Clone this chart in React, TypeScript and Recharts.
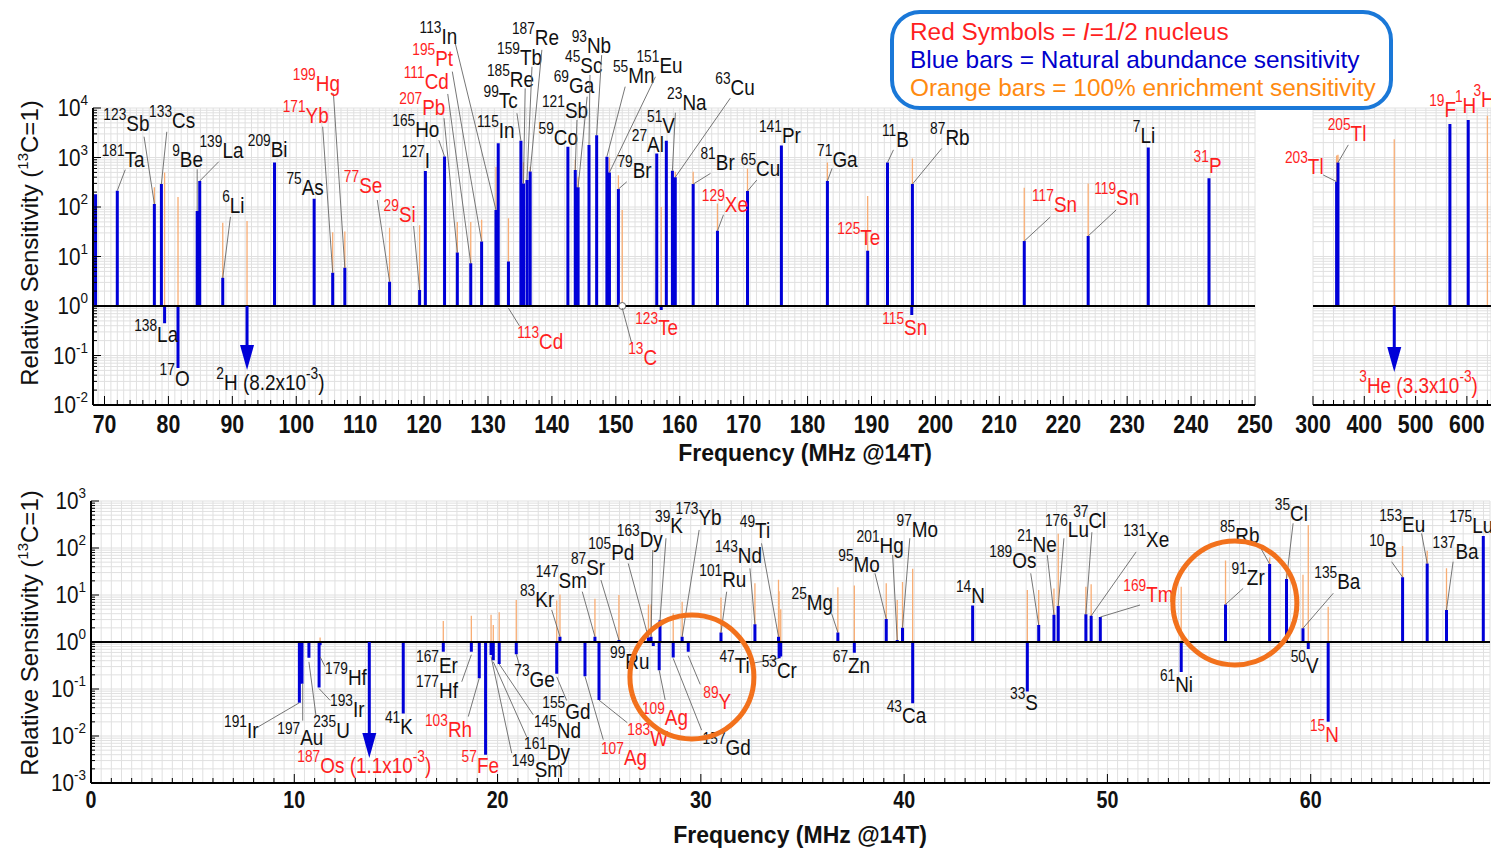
import React from "react";
import {
  ComposedChart,
  Line,
  Scatter,
  XAxis,
  YAxis,
  CartesianGrid,
  ReferenceLine,
  ReferenceDot,
} from "recharts";

const FONT = "'Liberation Sans', Arial, Helvetica, sans-serif";
const BLUE = "#0000d8";
const ORANGE = "#f8ad74";
const RED = "#ff1f1f";
const INK = "#111111";
const RING = "#f2711c";

// ---- top panel: 14.1 T frequency (MHz) and sensitivity relative to 13C ----
const TOP_ISOTOPES = [
  "175Lu", "181Ta", "123Sb", "133Cs", "138La", "17O", "9Be", "139La", "6Li", "2H",
  "209Bi", "75As", "171Yb", "199Hg", "77Se", "29Si", "127I", "165Ho", "207Pb", "111Cd",
  "195Pt", "113In", "115In", "113Cd", "99Tc", "185Re", "159Tb", "187Re", "59Co", "121Sb",
  "69Ga", "45Sc", "93Nb", "55Mn", "151Eu", "79Br", "13C", "27Al", "123Te", "51V",
  "23Na", "63Cu", "81Br", "129Xe", "65Cu", "141Pr", "71Ga", "125Te", "11B", "87Rb",
  "115Sn", "117Sn", "119Sn", "7Li", "31P", "203Tl", "205Tl", "3He", "19F", "1H", "3H",
];
const TOP_FREQ = [
  68.6, 72.0, 77.8, 78.9, 79.4, 81.5, 84.5, 84.9, 88.5, 92.3,
  96.6, 102.8, 105.7, 107.6, 114.6, 119.3, 120.2, 123.2, 125.2, 127.3,
  129.0, 131.25, 131.6, 133.2, 135.15, 135.55, 136.1, 136.6, 142.5, 143.65,
  144.1, 145.8, 147.0, 148.6, 149.0, 150.4, 151.0, 156.4, 157.1, 157.9,
  158.85, 159.3, 162.1, 165.9, 170.6, 175.9, 183.1, 189.4, 192.5, 196.4,
  196.3, 213.9, 223.9, 233.3, 242.8, 346, 348.7, 458.4, 566.9, 602.6, 640,
];
const TOP_NATURAL = [
  182, 214, 115, 290, 0.45, 0.056, 83, 335, 3.7, 8.2e-3,
  790, 147, 4.7, 5.9, 3.1, 2.1, 535, 1050, 12, 7.3,
  20, 87, 1940, 7.9, 2190, 300, 350, 520, 1650, 560,
  250, 1790, 2830, 1040, 500, 230, 1, 1210, 0.83, 2190,
  540, 400, 290, 33, 210, 1740, 335, 13, 790, 290,
  0.66, 20.5, 26, 1590, 380, 325, 790, 3.3e-3, 4760, 5700, null,
];
const TOP_ENRICHED = [
  null, null, 250, null, 500, 160, null, null, 48, 52,
  null, null, 31, 32, 38, 43, null, null, 50, 50,
  55, 650, null, 59, null, 800, null, 650, null, 890,
  410, null, null, null, 1000, 440, 87, null, 100, null,
  null, 515, 515, 118, 600, null, 790, 166, null, 950,
  190, 245, 300, null, null, 1100, 1130, 2330, null, null, 7000,
];

// ---- bottom panel ----
const BOTTOM_ISOTOPES = [
  "191Ir", "197Au", "235U", "193Ir", "179Hf", "187Os", "41K", "167Er", "177Hf", "103Rh",
  "57Fe", "149Sm", "161Dy", "145Nd", "73Ge", "155Gd", "83Kr", "107Ag", "147Sm", "183W",
  "87Sr", "105Pd", "163Dy", "99Ru", "109Ag", "39K", "157Gd", "173Yb", "89Y", "101Ru",
  "143Nd", "49Ti", "47Ti", "53Cr", "25Mg", "67Zn", "95Mo", "201Hg", "97Mo", "43Ca",
  "14N", "33S", "189Os", "21Ne", "176Lu", "37Cl", "131Xe", "169Tm", "61Ni", "91Zr",
  "85Rb", "35Cl", "135Ba", "50V", "15N", "10B", "153Eu", "137Ba", "175Lu",
];
const BOTTOM_FREQ = [
  10.25, 10.38, 10.72, 11.22, 11.27, 13.69, 15.36, 17.33, 18.71, 19.1,
  19.41, 19.68, 19.79, 20.08, 20.92, 22.91, 23.07, 24.3, 24.79, 24.99,
  25.97, 27.42, 27.55, 27.66, 27.95, 27.99, 28.64, 29.08, 29.38, 30.99,
  32.66, 33.82, 33.85, 33.93, 36.74, 37.55, 39.12, 39.66, 39.92, 40.42,
  43.37, 46.06, 46.62, 47.37, 47.58, 48.94, 49.2, 49.65, 53.63, 55.81,
  57.98, 58.81, 59.62, 59.88, 60.86, 64.52, 65.73, 66.68, 68.49,
];
const BOTTOM_NATURAL = [
  0.051, 0.13, 0.46, 0.107, 0.85, 1.1e-3, 0.03, 0.62, 0.62, 0.17,
  0.004, 0.53, 0.41, 0.34, 0.55, 0.21, 1.3, 0.186, 1.3, 0.058,
  1.1, 1.25, 1.3, 0.82, 0.25, 2.9, 0.47, 1.3, 0.62, 1.6,
  2.4, 1.3, 0.45, 0.49, 1.6, 0.59, 3.1, 1.1, 2.0, 0.05,
  6.0, 0.088, 2.3, 3.8, 5.8, 3.9, 3.6, 3.4, 0.23, 6.3,
  45.6, 22, 1.96, 0.71, 0.02, 24, 47, 4.8, 180,
];
const BOTTOM_ENRICHED = [
  null, null, null, null, 1.25, null, null, 2.8, 3.6, null,
  null, 3.8, 2.3, 4.3, 7.8, 7.6, 10.3, null, 8.3, null,
  10, 6.3, 6.3, null, null, null, 4.1, 7.2, null, 8.8,
  17.8, 21, 12, 5, 14.6, 16, 17.8, 7.8, 19, 36,
  null, 12.7, 12.7, 13.8, 200, 15, 17, null, 15, 54,
  63, 29, 27, 310, 5.6, 110, 87, 37, null,
];

// spin-1/2 nuclei get red labels; these are off scale and drawn as arrows
const HALF_SPIN = new Set([
  "171Yb", "199Hg", "77Se", "29Si", "207Pb", "111Cd", "195Pt", "113Cd", "13C", "123Te",
  "129Xe", "125Te", "115Sn", "117Sn", "119Sn", "31P", "203Tl", "205Tl", "3He", "19F",
  "1H", "3H", "187Os", "103Rh", "57Fe", "107Ag", "183W", "109Ag", "89Y", "169Tm", "15N",
]);
const ARROWS = new Set(["2H", "3He", "187Os"]);

// axis labels
const TOP_X_LABELS = [70, 80, 90, 100, 110, 120, 130, 140, 150, 160, 170, 180, 190, 200, 210, 220, 230, 240, 250];
const TOP_RIGHT_X_LABELS = [300, 400, 500, 600];
const BOTTOM_X_LABELS = [0, 10, 20, 30, 40, 50, 60];
const TOP_DECADES = [-2, 4];
const BOTTOM_DECADES = [-3, 3];

// label placement, pixels from the bar end: [textX, textY, (leaderStartX, leaderStartY,) leaderX, leaderY]
const TOP_LABEL_AT: Record<string, number[]> = {
  "181Ta": [-15.6, -24, 8, -21],
  "123Sb": [-51, -73.3, -10.3, -67.3],
  "133Cs": [-12.3, -56.3, 5.4, -52.3],
  "138La": [-30.4, 18.4],
  "17O": [-18.4, 18],
  "9Be": [-25, -44.3, 0, -41.7],
  "139La": [-0.3, -22.7, 19, -19.3],
  "6Li": [-0.6, -64.4, 7.7, -61],
  "2H": [-30.7, 84],
  "209Bi": [-26.7, -6],
  "75As": [-27.7, -3.7],
  "171Yb": [-50, -149.4, -10, -146],
  "199Hg": [-52, -177, -11.4, -174.4],
  "77Se": [-45.7, -89, -12.3, -81.7],
  "29Si": [-36, -68.3, -6, -64],
  "127I": [-23.6, -2.7],
  "165Ho": [-52.3, -19.6, -5.7, -16.3],
  "207Pb": [-58, -137.7, -13.3, -134.4],
  "111Cd": [-67, -174, -23, -169.3],
  "195Pt": [-69.3, -175.7, -29.3, -170],
  "113In": [-76.4, -166, -40.7, -166.6],
  "115In": [-21.3, -5],
  "113Cd": [8.7, 87.6, 0, 46.6, 11, 64.3],
  "99Tc": [-37.4, -32.4, -4, -27.4],
  "185Re": [-36.6, -96.6, 1.7, -95],
  "159Tb": [-30, -115, 5, -113.3],
  "187Re": [-18.3, -126.7, 11.7, -121.7],
  "59Co": [-29.4, -1.7],
  "121Sb": [-33.3, -51.7, 1.7, -50],
  "69Ga": [-24.4, -94, 9, -90.6],
  "45Sc": [-24, -71.7, 1, -70],
  "93Nb": [-25, -81.7, 5, -80],
  "55Mn": [6, -73.4, 18.3, -70],
  "151Eu": [27, -99, 46, -95.6],
  "79Br": [-1, -10.7, 8.4, -7.3],
  "13C": [6, 59, 0, 2, 9.4, 37],
  "27Al": [-25, -1.6],
  "123Te": [-26, 25],
  "51V": [-19.3, -7.4],
  "23Na": [-5.3, -60.7, 3, -58],
  "63Cu": [40, -82.3, 55, -79],
  "81Br": [7.3, -14, 17.3, -10.7],
  "129Xe": [-15.6, -19.3, 6, -16],
  "65Cu": [-6.7, -15, 9.3, -11],
  "141Pr": [-22.4, -2.4],
  "71Ga": [-10.3, -14.3, 4.7, -12.7],
  "125Te": [-30.3, -5.7],
  "11B": [-5.6, -16, 6, -12.7],
  "87Rb": [17.7, -39, 29.4, -35.7],
  "115Sn": [-29.6, 20],
  "117Sn": [7.7, -29.3, 26, -24],
  "119Sn": [6, -31, 28, -26],
  "7Li": [-15.4, -4.4],
  "31P": [-15.4, -5],
  "203Tl": [-51.7, -7.7, -13.4, -6.7],
  "205Tl": [-10.3, -22, 10.3, -17.7],
  "3He": [-35, 87.3],
  "19F": [-20.7, -6.7],
  "1H": [-13.3, -6.7],
  "3H": [-14, -9],
};

const BOTTOM_LABEL_AT: Record<string, number[]> = {
  "191Ir": [-75.3, 35.6, -41, 24],
  "197Au": [-24.7, 61.7, 0.7, 0, 0.7, 37],
  "235U": [4.3, 80.6, 0, 4, 7, 57.3],
  "193Ir": [11, 29.4, 0, 1, 11, 12.7],
  "179Hf": [4.9, 39.7, 0, 11.4, 4.9, 21.4],
  "187Os": [-72, 131.3],
  "41K": [-18.3, 20],
  "167Er": [-27.3, 21.6],
  "177Hf": [-55.3, 46.6, 0, 3, -9.6, 30],
  "103Rh": [-54.3, 58.4, -11, 38.4],
  "57Fe": [-24, 18.3],
  "149Sm": [20.7, 121.7, 0, 1.7, 20.7, 98.3],
  "161Dy": [30.7, 100, 0, 1.7, 33.4, 76.7],
  "145Nd": [34.7, 74, 34, 50.7],
  "73Ge": [-2, 32.7, 4, 14],
  "155Gd": [-14.4, 45, 0, 3, 10, 26.7],
  "83Kr": [-40, -30, -8.3, -26.7],
  "107Ag": [16, 88.3, 18.3, 63.3],
  "147Sm": [-59.3, -48.4, -12.7, -45],
  "183W": [28.3, 46, 28.3, 22.6],
  "87Sr": [-48, -65, -18, -60],
  "105Pd": [-60.2, -77.4, -20.2, -74],
  "163Dy": [-34.3, -89.9, 1.7, -86.6],
  "99Ru": [-43.3, 23.3],
  "109Ag": [-17.3, 54.7, 6, 29.7],
  "39K": [-5, -87, 6, -82],
  "157Gd": [29.4, 97.7, 0, 1, 28.4, 72.7],
  "173Yb": [-6.6, -111.7, 17, -106.7],
  "89Y": [15, 57.7, 0, 4, 12, 32.7],
  "101Ru": [-21.7, -45.7, 5.7, -40.7],
  "143Nd": [-40, -60.8, -5, -55.8],
  "49Ti": [-38.7, -98.3, -17, -93.3],
  "47Ti": [-59.7, 15, -27, 5],
  "53Cr": [-19.1, 21.7],
  "25Mg": [-46.3, -22.4, -6.3, -19],
  "67Zn": [-21.6, 20.5],
  "95Mo": [-48, -47.2, -11.3, -45.6],
  "201Hg": [-40.6, -86.8, -4.6, -85.1],
  "97Mo": [-6, -91.2, 7.3, -89.6],
  "43Ca": [-26, 20.2],
  "14N": [-16.7, -2.1],
  "33S": [-17.3, 18.4],
  "189Os": [-49.4, -56.7, -8, -51.7],
  "21Ne": [-36.7, -63, -6.7, -59.7],
  "176Lu": [-13.3, -69.4, 5.7, -67.8],
  "37Cl": [-12.7, -85.9, 6, -82],
  "131Xe": [32, -68.6, 45, -64],
  "169Tm": [23, -15.3, 39.7, -12],
  "61Ni": [-21.3, 19.7],
  "91Zr": [6, -19.4, 17.6, -16],
  "85Rb": [-49.7, -20.7, -9.7, -17.3],
  "35Cl": [-11.7, -58.2, 6.6, -55.6],
  "135Ba": [11.3, -39, 30.3, -35],
  "50V": [-17.6, 24.3],
  "15N": [-18.3, 19.8],
  "10B": [-33.4, -19.8, -11, -15.4],
  "153Eu": [-48, -31.7, -5.6, -30],
  "137Ba": [-14, -50.7, 6.6, -48.3],
  "175Lu": [-34, -2.7],
};

// highlighted nuclei (orange rings) in the lower panel
const RING_FREQ = [29.56, 56.27];
const RING_VALUE = [0.18, 6.76];

type Row = { iso: string; f: number; nat: number | null; enr: number | null };

function toRows(iso: string[], freq: number[], nat: (number | null)[], enr: (number | null)[]): Row[] {
  return iso.map((s, i) => ({ iso: s, f: freq[i], nat: nat[i], enr: enr[i] }));
}

// vertical stick from 1 to v, broken by a null point
function sticks(rows: Row[], key: "nat" | "enr") {
  const out: { f: number; v: number | null }[] = [];
  rows.forEach((r) => {
    const v = r[key];
    if (v == null || (key === "nat" && ARROWS.has(r.iso))) return;
    out.push({ f: r.f, v: 1 }, { f: r.f, v }, { f: r.f, v: null });
  });
  return out;
}

function range(a: number, b: number, step: number) {
  const out: number[] = [];
  for (let i = 0; a + i * step <= b + 1e-9; i++) out.push(+(a + i * step).toFixed(4));
  return out;
}

function logTicks([lo, hi]: number[]) {
  const out: number[] = [];
  for (let e = lo; e < hi; e++) for (let m = 1; m <= 9; m++) out.push(Number((m * Math.pow(10, e)).toPrecision(6)));
  out.push(Math.pow(10, hi));
  return out;
}

function XTick(props: any) {
  const { x, y, payload, labels, markEvery, fontSize, baseline } = props;
  const v = payload.value;
  const isLabel = labels.includes(v);
  const isMark = Math.abs(v / markEvery - Math.round(v / markEvery)) < 1e-6;
  return (
    <g>
      {isMark && <line x1={x} x2={x} y1={y} y2={y - (isLabel ? 9 : 5)} stroke="#000" strokeWidth={1} />}
      {isLabel && (
        <text
          transform={`translate(${x} ${y + baseline}) scale(0.82 1)`}
          textAnchor="middle"
          fontFamily={FONT}
          fontWeight={700}
          fontSize={fontSize}
          fill={INK}
        >
          {v}
        </text>
      )}
    </g>
  );
}

function YTick(props: any) {
  const { x, y, payload } = props;
  const e = Math.log10(payload.value);
  const major = Math.abs(e - Math.round(e)) < 1e-6;
  return (
    <g>
      <line x1={x} x2={x + (major ? 8 : 4)} y1={y} y2={y} stroke="#000" strokeWidth={1} />
      {major && (
        <text transform={`translate(${x - 5} ${y + 8}) scale(0.9 1)`} textAnchor="end" fontFamily={FONT} fontSize={23} fill={INK}>
          10
          <tspan fontSize={15} dy={-11}>
            {Math.round(e)}
          </tspan>
        </text>
      )}
    </g>
  );
}

function IsoMark(props: any) {
  const { cx, cy, payload: p } = props;
  if (cx == null || cy == null || !p) return <g />;
  const parts: React.ReactNode[] = [];
  if (p.arrow) {
    const L = p.arrowLen;
    parts.push(<line key="shaft" x1={cx} y1={cy} x2={cx} y2={cy + L - 22} stroke={BLUE} strokeWidth={3} />);
    parts.push(
      <polygon key="head" points={`${cx - 7},${cy + L - 25} ${cx + 7},${cy + L - 25} ${cx},${cy + L}`} fill={BLUE} />
    );
  }
  if (p.reference) parts.push(<circle key="ref" cx={cx} cy={cy} r={3.5} fill="#fff" stroke="#666" strokeWidth={1} />);
  const pos: number[] | undefined = p.pos;
  if (pos) {
    const seg = pos.length === 6 ? pos.slice(2) : pos.length === 4 ? [0, 0, pos[2], pos[3]] : null;
    if (seg)
      parts.push(
        <line key="lead" x1={cx + seg[0]} y1={cy + seg[1]} x2={cx + seg[2]} y2={cy + seg[3]} stroke="#666" strokeWidth={0.9} />
      );
    const m = /^(\d+)(\D+)$/.exec(p.iso) || ["", "", p.iso];
    let exp = 0;
    let mant = "";
    if (p.arrow) {
      exp = Math.floor(Math.log10(p.nat));
      mant = (p.nat / Math.pow(10, exp)).toFixed(1);
    }
    parts.push(
      <text
        key="txt"
        transform={`translate(${cx + pos[0]} ${cy + pos[1]}) scale(0.86 1)`}
        fontFamily={FONT}
        fontSize={22}
        fill={p.red ? RED : INK}
        style={{ whiteSpace: "pre" }}
      >
        <tspan fontSize={16} dy={-11}>
          {m[1]}
        </tspan>
        <tspan dy={11}>{m[2]}</tspan>
        {p.arrow && <tspan>{` (${mant}x10`}</tspan>}
        {p.arrow && (
          <tspan fontSize={16} dy={-11}>
            {exp}
          </tspan>
        )}
        {p.arrow && <tspan dy={11}>)</tspan>}
      </text>
    );
  }
  return <g>{parts}</g>;
}

type PanelProps = {
  left: number;
  top: number;
  width: number;
  height: number;
  margin: { top: number; right: number; bottom: number; left: number };
  yAxisWidth: number;
  hideY?: boolean;
  xDomain: [number, number];
  xTicks: number[];
  xLabels: number[];
  markEvery: number;
  xAxisHeight: number;
  tickFontSize: number;
  tickBaseline: number;
  yDomain: [number, number];
  yTicks: number[];
  rows: Row[];
  labelAt: Record<string, number[]>;
  arrowLen: number;
  rings?: { f: number; v: number }[];
};

function Panel(props: PanelProps) {
  const { rows, labelAt, arrowLen } = props;
  const blue = sticks(rows, "nat");
  const orange = sticks(rows, "enr");
  const marks = rows.map((r) => ({
    ...r,
    v: ARROWS.has(r.iso) ? 1 : r.nat != null ? r.nat : r.enr,
    red: HALF_SPIN.has(r.iso),
    arrow: ARROWS.has(r.iso),
    reference: r.nat === 1,
    pos: labelAt[r.iso],
    arrowLen,
  }));
  return (
    <div style={{ position: "absolute", left: props.left, top: props.top }}>
      <ComposedChart width={props.width} height={props.height} margin={props.margin}>
        <CartesianGrid stroke="#e0e0e0" strokeWidth={1} />
        <XAxis
          type="number"
          dataKey="f"
          domain={props.xDomain}
          ticks={props.xTicks}
          interval={0}
          height={props.xAxisHeight}
          tickSize={0}
          tickMargin={0}
          tickLine={false}
          axisLine={{ stroke: "#000", strokeWidth: 2 }}
          tick={(p: any) => (
            <XTick
              {...p}
              labels={props.xLabels}
              markEvery={props.markEvery}
              fontSize={props.tickFontSize}
              baseline={props.tickBaseline}
            />
          )}
        />
        <YAxis
          type="number"
          dataKey="v"
          scale="log"
          domain={props.yDomain}
          ticks={props.yTicks}
          interval={0}
          width={props.yAxisWidth}
          hide={props.hideY}
          tickSize={0}
          tickMargin={0}
          tickLine={false}
          axisLine={{ stroke: "#000", strokeWidth: 2 }}
          tick={(p: any) => <YTick {...p} />}
        />
        <Line
          data={orange}
          dataKey="v"
          type="linear"
          stroke={ORANGE}
          strokeWidth={1.3}
          dot={false}
          activeDot={false}
          connectNulls={false}
          isAnimationActive={false}
        />
        <Line
          data={blue}
          dataKey="v"
          type="linear"
          stroke={BLUE}
          strokeWidth={3}
          dot={false}
          activeDot={false}
          connectNulls={false}
          isAnimationActive={false}
        />
        <ReferenceLine y={1} stroke="#000" strokeWidth={2} />
        <Scatter data={marks} dataKey="v" shape={IsoMark} isAnimationActive={false} />
        {(props.rings || []).map((r, i) => (
          <ReferenceDot key={i} x={r.f} y={r.v} r={62} fill="none" stroke={RING} strokeWidth={5} />
        ))}
      </ComposedChart>
    </div>
  );
}

function YTitle({ cx, cy }: { cx: number; cy: number }) {
  return (
    <div
      style={{
        position: "absolute",
        left: cx,
        top: cy,
        transform: "translate(-50%, -50%) rotate(-90deg)",
        whiteSpace: "nowrap",
        fontSize: 24,
        lineHeight: "26px",
        color: INK,
      }}
    >
      Relative Sensitivity (<span style={{ fontSize: 15, position: "relative", top: -10 }}>13</span>C=1)
    </div>
  );
}

function XTitle({ cx, baseline }: { cx: number; baseline: number }) {
  return (
    <div
      style={{
        position: "absolute",
        left: cx,
        top: baseline - 20,
        transform: "translateX(-50%)",
        whiteSpace: "nowrap",
        fontSize: 23,
        lineHeight: "23px",
        fontWeight: 700,
        color: INK,
      }}
    >
      Frequency (MHz @14T)
    </div>
  );
}

function KeyBox() {
  return (
    <div
      style={{
        position: "absolute",
        left: 890,
        top: 10,
        width: 503,
        height: 100,
        boxSizing: "border-box",
        border: "4px solid #1a78d8",
        borderRadius: 30,
        background: "#fff",
        paddingTop: 4,
        paddingLeft: 16,
        fontSize: 24.4,
        lineHeight: "28px",
        whiteSpace: "nowrap",
      }}
    >
      <div style={{ color: RED }}>
        Red Symbols = <i>I</i>=1/2 nucleus
      </div>
      <div style={{ color: "#0000cc" }}>Blue bars = Natural abundance sensitivity</div>
      <div style={{ color: "#ff8a10" }}>Orange bars = 100% enrichment sensitivity</div>
    </div>
  );
}

export default function App() {
  const topRows = toRows(TOP_ISOTOPES, TOP_FREQ, TOP_NATURAL, TOP_ENRICHED);
  const bottomRows = toRows(BOTTOM_ISOTOPES, BOTTOM_FREQ, BOTTOM_NATURAL, BOTTOM_ENRICHED);
  const topLeftRows = topRows.filter((r) => r.f <= 250);
  const topRightRows = topRows.filter((r) => r.f >= 300);
  const topY = logTicks(TOP_DECADES);
  const bottomY = logTicks(BOTTOM_DECADES);
  const rings = RING_FREQ.map((f, i) => ({ f, v: RING_VALUE[i] }));

  return (
    <div
      style={{
        position: "absolute",
        left: 0,
        top: 0,
        width: 1491,
        height: 852,
        background: "#fff",
        overflow: "hidden",
        fontFamily: FONT,
      }}
    >
      <Panel
        left={0}
        top={0}
        width={1290}
        height={470}
        margin={{ top: 108, right: 35, bottom: 0, left: 0 }}
        yAxisWidth={93}
        xDomain={[68.2, 250]}
        xTicks={range(69, 250, 1)}
        xLabels={TOP_X_LABELS}
        markEvery={2}
        xAxisHeight={65}
        tickFontSize={26}
        tickBaseline={28}
        yDomain={[0.01, 10000]}
        yTicks={topY}
        rows={topLeftRows}
        labelAt={TOP_LABEL_AT}
        arrowLen={64}
      />
      <Panel
        left={1250}
        top={0}
        width={241}
        height={470}
        margin={{ top: 108, right: 0, bottom: 0, left: 63 }}
        yAxisWidth={0}
        hideY
        xDomain={[300, 647]}
        xTicks={range(300, 640, 20)}
        xLabels={TOP_RIGHT_X_LABELS}
        markEvery={20}
        xAxisHeight={65}
        tickFontSize={26}
        tickBaseline={28}
        yDomain={[0.01, 10000]}
        yTicks={topY}
        rows={topRightRows}
        labelAt={TOP_LABEL_AT}
        arrowLen={66}
      />
      <Panel
        left={0}
        top={470}
        width={1491}
        height={382}
        margin={{ top: 31, right: 1, bottom: 0, left: 0 }}
        yAxisWidth={91}
        xDomain={[0, 68.82]}
        xTicks={range(0, 68.5, 0.5)}
        xLabels={BOTTOM_X_LABELS}
        markEvery={1}
        xAxisHeight={69}
        tickFontSize={24}
        tickBaseline={25}
        yDomain={[0.001, 1000]}
        yTicks={bottomY}
        rows={bottomRows}
        labelAt={BOTTOM_LABEL_AT}
        arrowLen={116}
        rings={rings}
      />
      <YTitle cx={31} cy={243} />
      <YTitle cx={31} cy={633} />
      <XTitle cx={805} baseline={462} />
      <XTitle cx={800} baseline={844} />
      <KeyBox />
    </div>
  );
}
